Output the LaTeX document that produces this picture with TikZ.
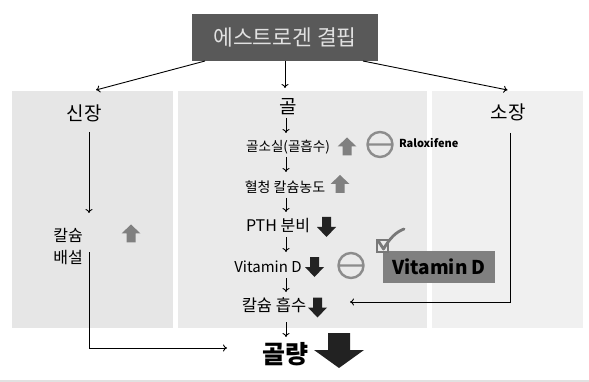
\documentclass[tikz,border=0pt]{standalone}
\usepackage{fontspec}
\setmainfont{Noto Sans CJK KR}
\usepackage{tikz}
\usetikzlibrary{arrows.meta}

\tikzset{
  uparr/.pic={\fill[fill={rgb,255:red,128;green,128;blue,128}] (-4.5,9) -- (-4.5,0) -- (-9.5,0) -- (0,-9) -- (9.5,0) -- (4.5,0) -- (4.5,9) -- cycle;},
  downarr/.pic={\fill[fill={rgb,255:red,34;green,34;blue,34}] (-4.5,-10) -- (-4.5,0) -- (-9.5,0) -- (0,10) -- (9.5,0) -- (4.5,0) -- (4.5,-10) -- cycle;},
  ring/.pic={\draw[line width=2.4pt,draw={rgb,255:red,140;green,140;blue,140}] (0,0) circle (12.5) (-12.5,0) -- (12.5,0);}
}

\begin{document}
\begin{tikzpicture}[x=1pt,y=-1pt,every node/.style={inner sep=0pt, outer sep=0pt}, link/.style={-{To[length=4pt,width=7pt]}, line width=0.9pt}]
\useasboundingbox (0,0) rectangle (589,382);
\fill[fill={rgb,255:red,225;green,225;blue,225}] (0,379.5) rectangle (589,382);
% panels
\node[fill={rgb,255:red,230;green,230;blue,230}, minimum width=161pt, minimum height=237pt] (kpanel) at (92.5,209.5) {};
\node[fill={rgb,255:red,234;green,234;blue,234}, minimum width=249pt, minimum height=237pt] (bpanel) at (302.5,209.5) {};
\node[fill={rgb,255:red,240;green,240;blue,240}, minimum width=151pt, minimum height=237pt] (gpanel) at (507.5,209.5) {};
\node[fill={rgb,255:red,89;green,89;blue,89}, minimum width=186pt, minimum height=47pt, text={rgb,255:red,225;green,225;blue,225}, font=\fontsize{21.5}{24}\selectfont] (cause) at (285,37.5) {에스트로겐 결핍};
% column heads
\node[font=\fontsize{19}{22}\selectfont] (kidney) at (84,113) {신장};
\node[font=\fontsize{19}{22}\selectfont] (bone) at (288,107) {골};
\node[font=\fontsize{19}{22}\selectfont] (gut) at (508,112) {소장};
% kidney
\node[font=\fontsize{16}{22}\selectfont, align=center] (kexcr) at (68,247) {칼슘\\배설};
\pic at (131,233.5) {uparr};
% bone
\node[font=\fontsize{13.5}{16}\selectfont] (loss) at (288,147) {골소실(골흡수)};
\pic at (347,146.5) {uparr};
\pic at (380,144.5) {ring};
\node[font=\fontsize{11}{13}\selectfont\bfseries, anchor=west] (ralox) at (399,143) {Raloxifene};
\node[font=\fontsize{14}{16}\selectfont] (serum) at (285,187) {혈청 칼슘농도};
\pic at (340,184) {uparr};
\node[font=\fontsize{16}{18}\selectfont] (pth) at (278,226) {PTH 분비};
\pic at (326.5,227) {downarr};
\node[font=\fontsize{15}{18}\selectfont] (vitd) at (268,267) {Vitamin D};
\pic at (314.5,267) {downarr};
\pic at (351,265.5) {ring};
\node[fill={rgb,255:red,128;green,128;blue,128}, minimum width=112pt, minimum height=32pt, font=\fontsize{19}{22}\selectfont\bfseries] (vitbox) at (439,267) {Vitamin D};
\draw[line width=1.6pt, draw={rgb,255:red,120;green,120;blue,120}] (377,240) rectangle (388,252);
\draw[line width=2.8pt, draw={rgb,255:red,120;green,120;blue,120}, line cap=round, line join=round] (379,242) -- (383.5,249) .. controls (390,238) and (396,232) .. (404,229);
\node[font=\fontsize{16.5}{18}\selectfont] (absorb) at (274,305) {칼슘 흡수};
\pic at (317.5,307.5) {downarr};
\node[font=\fontsize{25}{28}\selectfont\bfseries] (mass) at (285,354) {골량};
\fill[fill={rgb,255:red,34;green,34;blue,34}] (328,333) -- (328,350) -- (314,350) -- (339,368) -- (364,350) -- (350,350) -- (350,333) -- cycle;
% connectors
\draw[link] ([xshift=13pt]cause.south west) -- ([shift={(3.5,-1)}]kpanel.north);
\draw[link] (cause.south) -- ([yshift=3pt]cause.south |- bpanel.north);
\draw[link] ([xshift=-15pt]cause.south east) -- ([yshift=1pt]gpanel.north);
\draw[link] ([shift={(5,19)}]kidney.center) -- ([shift={(21,-34)}]kexcr.center);
\draw[link] ([shift={(21,5)}]kexcr.center) |- ([shift={(-58,-6)}]mass.center);
\draw[link] ([shift={(2,21)}]gut.center) |- ([shift={(76,-3)}]absorb.center);
\draw[link] ([shift={(-2,11)}]bone.center) -- ([shift={(-2,-14)}]loss.center);
\draw[link] ([shift={(-2,10)}]loss.center) -- ([shift={(1,-15)}]serum.center);
\draw[link] ([shift={(1,11)}]serum.center) -- ([shift={(8,-14)}]pth.center);
\draw[link] ([shift={(8,11)}]pth.center) -- ([shift={(18,-15)}]vitd.center);
\draw[link] ([shift={(18,11)}]vitd.center) -- ([shift={(12,-13)}]absorb.center);
\draw[link] ([shift={(12,17)}]absorb.center) -- ([shift={(1,-17)}]mass.center);
\end{tikzpicture}
\end{document}
